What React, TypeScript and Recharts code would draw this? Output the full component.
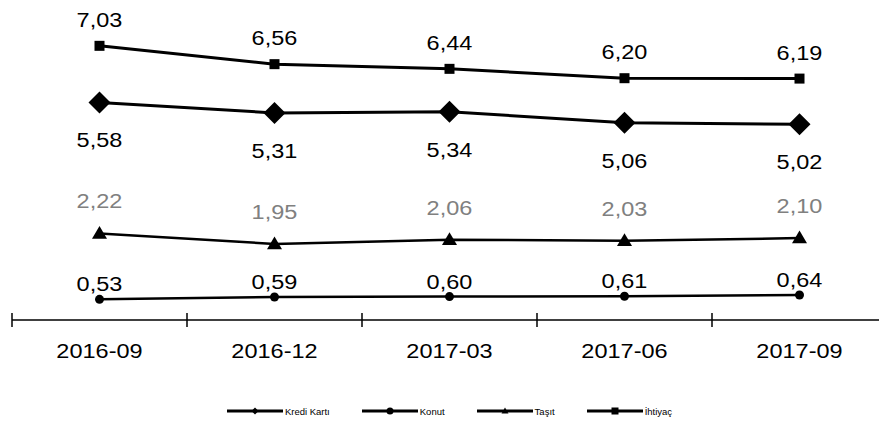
import React from 'react';
import { LineChart, Line, XAxis, YAxis, Legend, LabelList } from 'recharts';

const categories = ['2016-09', '2016-12', '2017-03', '2017-06', '2017-09'];
const krediKarti = [5.58, 5.31, 5.34, 5.06, 5.02];
const konut = [0.53, 0.59, 0.6, 0.61, 0.64];
const tasit = [2.22, 1.95, 2.06, 2.03, 2.1];
const ihtiyac = [7.03, 6.56, 6.44, 6.2, 6.19];

const seriesOrder = ['krediKarti', 'konut', 'tasit', 'ihtiyac'];

const data = categories.map((name, i) => ({
  i,
  name,
  krediKarti: krediKarti[i],
  konut: konut[i],
  tasit: tasit[i],
  ihtiyac: ihtiyac[i],
}));

// boundaries between categories get a tick line, centers get the label
const xTicks = categories.flatMap((_, i) => [i - 0.5, i]).concat(categories.length - 0.5);

const FONT = '"Liberation Sans", Arial, sans-serif';
const STRETCH = 1.12; // the original's text is a bit wider than Arial
const fmt = (v: any) => Number(v).toFixed(2).replace('.', ',');

type Mark = 'diamond' | 'circle' | 'triangle' | 'square';

const drawMark = (kind: Mark, cx: number, cy: number, s: number, key?: any) => {
  if (kind === 'diamond')
    return <polygon key={key} points={`${cx},${cy - s} ${cx + s},${cy} ${cx},${cy + s} ${cx - s},${cy}`} fill="#000" />;
  if (kind === 'circle') return <circle key={key} cx={cx} cy={cy} r={s} fill="#000" />;
  if (kind === 'triangle')
    return <polygon key={key} points={`${cx},${cy - s} ${cx + s},${cy + s * 0.7} ${cx - s},${cy + s * 0.7}`} fill="#000" />;
  return <rect key={key} x={cx - s} y={cy - s} width={s * 2} height={s * 2} fill="#000" />;
};

const dotFor = (kind: Mark, s: number) => (p: any) => drawMark(kind, p.cx, p.cy, s, p.key ?? `${kind}-${p.index}`);

const marks: Record<string, Mark> = {
  krediKarti: 'diamond',
  konut: 'circle',
  tasit: 'triangle',
  ihtiyac: 'square',
};

// value label centred dy px from the point
const valueLabel = (dy: number, fill = '#000') => (p: any) => {
  const x = p.viewBox?.x ?? p.x;
  const y = p.viewBox?.y ?? p.y;
  return (
    <text
      key={`${x}-${y}`}
      transform={`translate(${x},${y + dy}) scale(${STRETCH},1)`}
      textAnchor="middle"
      dominantBaseline="central"
      fontSize={21}
      fontFamily={FONT}
      fill={fill}
    >
      {fmt(p.value)}
    </text>
  );
};

const XTick = (props: any) => {
  const { x, y, payload } = props;
  const v = payload.value;
  if (Number.isInteger(v)) {
    return (
      <text
        transform={`translate(${x},${y + 38}) scale(${STRETCH},1)`}
        textAnchor="middle"
        fontSize={21}
        fontFamily={FONT}
        fill="#000"
      >
        {categories[v]}
      </text>
    );
  }
  return <line x1={x} x2={x} y1={y - 7} y2={y + 7} stroke="#000" strokeWidth={1.5} />;
};

const LegendContent = (props: any) => {
  const payload = [...(props.payload || [])].sort(
    (a: any, b: any) => seriesOrder.indexOf(a.dataKey) - seriesOrder.indexOf(b.dataKey)
  );
  return (
    <div style={{ display: 'flex', justifyContent: 'center', gap: 32, height: 20, alignItems: 'center' }}>
      {payload.map((p: any) => (
        <div key={p.value} style={{ display: 'flex', alignItems: 'center' }}>
          <svg width={56} height={10}>
            <line x1={0} x2={56} y1={5} y2={5} stroke="#000" strokeWidth={3} />
            {drawMark(marks[p.dataKey], 28, 5, 3.5)}
          </svg>
          <span style={{ fontFamily: FONT, fontSize: 9.5, marginLeft: 2, color: '#000' }}>{p.value}</span>
        </div>
      ))}
    </div>
  );
};

export default function App() {
  return (
    <div style={{ position: 'absolute', left: 0, top: 0, width: 879, height: 427, overflow: 'hidden', background: '#fff' }}>
      <LineChart width={895} height={427} data={data} margin={{ top: 8, right: 8, left: 12, bottom: 6 }}>
        <XAxis
          dataKey="i"
          type="number"
          domain={[-0.5, categories.length - 0.5]}
          ticks={xTicks}
          interval={0}
          tickSize={0}
          tickMargin={0}
          tickLine={false}
          tick={<XTick />}
          height={81}
          axisLine={{ stroke: '#000', strokeWidth: 1.5 }}
        />
        <YAxis hide domain={[0, 8]} />
        <Legend verticalAlign="bottom" content={<LegendContent />} />
        <Line
          dataKey="krediKarti"
          name="Kredi Kartı"
          stroke="#000"
          strokeWidth={3}
          dot={dotFor('diamond', 11)}
          activeDot={false}
          isAnimationActive={false}
        >
          <LabelList dataKey="krediKarti" content={valueLabel(38)} />
        </Line>
        <Line
          dataKey="konut"
          name="Konut"
          stroke="#000"
          strokeWidth={2.5}
          dot={dotFor('circle', 4.5)}
          activeDot={false}
          isAnimationActive={false}
        >
          <LabelList dataKey="konut" content={valueLabel(-15)} />
        </Line>
        <Line
          dataKey="tasit"
          name="Taşıt"
          stroke="#000"
          strokeWidth={2.5}
          dot={dotFor('triangle', 7.5)}
          activeDot={false}
          isAnimationActive={false}
        >
          <LabelList dataKey="tasit" content={valueLabel(-32, '#808080')} />
        </Line>
        <Line
          dataKey="ihtiyac"
          name="İhtiyaç"
          stroke="#000"
          strokeWidth={3}
          dot={dotFor('square', 5)}
          activeDot={false}
          isAnimationActive={false}
        >
          <LabelList dataKey="ihtiyac" content={valueLabel(-26)} />
        </Line>
      </LineChart>
    </div>
  );
}
